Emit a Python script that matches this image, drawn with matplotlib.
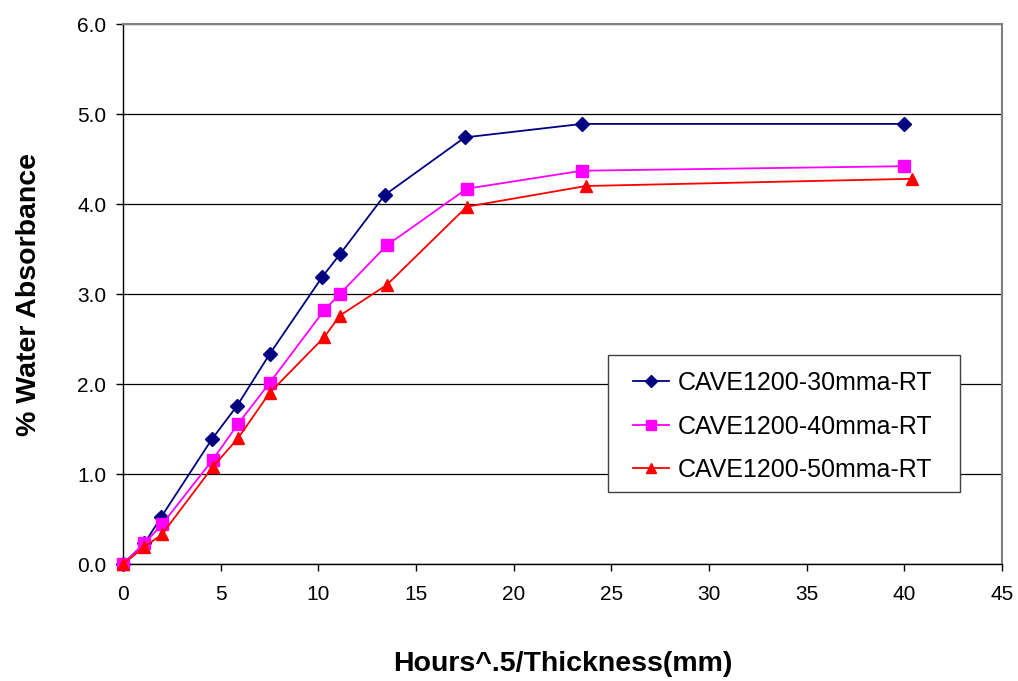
import matplotlib
matplotlib.use("Agg")
import matplotlib.pyplot as plt
from matplotlib.patches import Rectangle

plt.rcParams['font.family'] = ['Liberation Sans', 'DejaVu Sans']

# sqrt(hours)/thickness for each sample series
x_30 = [0.0, 1.1, 1.95, 4.56, 5.85, 7.5, 10.2, 11.1, 13.4, 17.5, 23.5, 40.0]
y_30 = [0.0, 0.23, 0.52, 1.39, 1.76, 2.33, 3.19, 3.44, 4.10, 4.74, 4.89, 4.89]

x_40 = [0.0, 1.1, 2.0, 4.6, 5.9, 7.5, 10.3, 11.1, 13.5, 17.6, 23.5, 40.0]
y_40 = [0.0, 0.23, 0.44, 1.16, 1.56, 2.01, 2.82, 3.00, 3.54, 4.17, 4.37, 4.42]

x_50 = [0.0, 1.1, 2.0, 4.6, 5.9, 7.5, 10.3, 11.1, 13.5, 17.6, 23.7, 40.4]
y_50 = [0.0, 0.19, 0.33, 1.08, 1.40, 1.90, 2.52, 2.76, 3.10, 3.97, 4.20, 4.28]

labels = ["CAVE1200-30mma-RT", "CAVE1200-40mma-RT", "CAVE1200-50mma-RT"]
x_ticks = list(range(0, 50, 5))
y_ticks = [0.0, 1.0, 2.0, 3.0, 4.0, 5.0, 6.0]

W, H = 1018, 681
L, R, T, B = 123, 1002, 24, 564

fig = plt.figure(figsize=(W / 100, H / 100), dpi=100)
ax = fig.add_axes([L / W, 1 - B / H, (R - L) / W, (B - T) / H])

ax.plot(x_30, y_30, color='#000080', marker='D', markersize=7, lw=1.3, label=labels[0], clip_on=False, zorder=3)
ax.plot(x_40, y_40, color='#FF00FF', marker='s', markersize=9, lw=1.3, label=labels[1], clip_on=False, zorder=3)
ax.plot(x_50, y_50, color='#FF0000', marker='^', markersize=9, lw=1.3, label=labels[2], clip_on=False, zorder=3)

ax.set_xlim(0, 45)
ax.set_ylim(0, 6)
ax.set_xticks(x_ticks)
ax.set_yticks(y_ticks)
ax.set_yticklabels([f"{v:.1f}" for v in y_ticks])
ax.yaxis.grid(True, color='black', lw=0.9)
ax.set_axisbelow(True)

for side in ('top', 'right'):
    ax.spines[side].set_color('#808080')
    ax.spines[side].set_linewidth(1.5)
for side in ('left', 'bottom'):
    ax.spines[side].set_color('black')
    ax.spines[side].set_linewidth(1.0)

ax.tick_params(axis='both', direction='out', length=5, width=1, labelsize=15)
ax.tick_params(axis='x', pad=10)
ax.tick_params(axis='y', pad=7)

ax.set_xlabel("Hours^.5/Thickness(mm)", fontsize=20.5, fontweight='bold', labelpad=34)
ax.set_ylabel("% Water Absorbance", fontsize=20.5, fontweight='bold', labelpad=25)

# legend box drawn as a separate white frame, entries placed inside it
frame = Rectangle((608 / W, 1 - 492 / H), (960 - 608) / W, (492 - 355) / H,
                  transform=fig.transFigure, facecolor='white', edgecolor='#404040',
                  lw=1.0, zorder=4)
fig.add_artist(frame)
leg = fig.legend(loc='upper left', bbox_to_anchor=(633 / W, 1 - 371 / H),
                 bbox_transform=fig.transFigure,
                 fontsize=18, frameon=False, borderpad=0, labelspacing=0.78,
                 handlelength=1.45, handletextpad=0.35, borderaxespad=0,
                 markerscale=0.85)
leg.set_zorder(5)

fig.savefig("out.png", dpi=100)
